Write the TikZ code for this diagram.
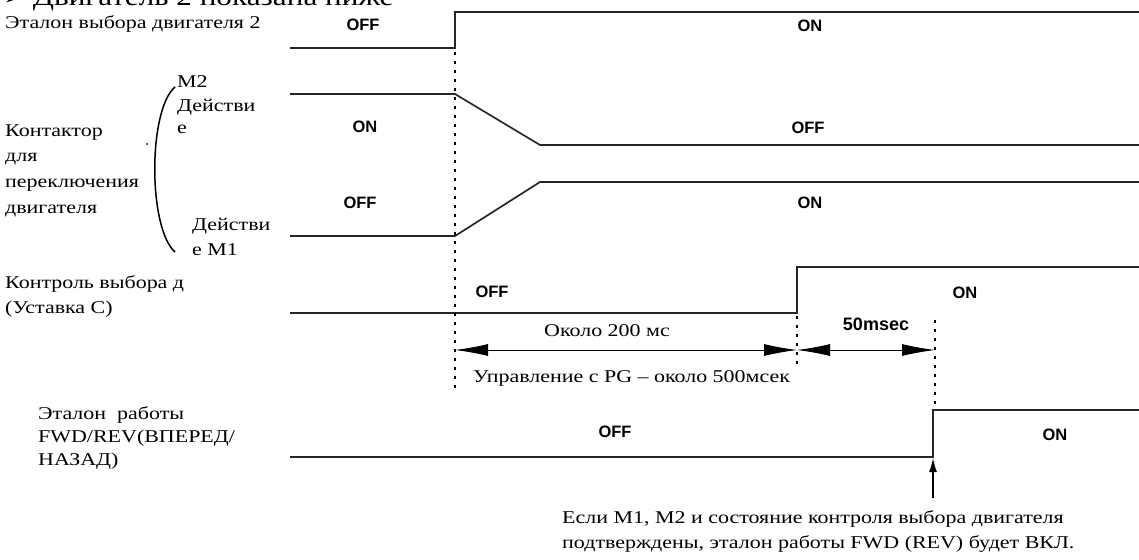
\documentclass[tikz,border=0pt]{standalone}
\usepackage{fontspec}
\setmainfont{Liberation Serif}
\newfontfamily\lblfont[FakeStretch=1.22]{Liberation Serif}
\newfontfamily\titlefont[FakeStretch=1.2]{Liberation Serif}
\newfontfamily\stfont{Liberation Sans}
\newfontfamily\symfont{DejaVu Sans}
\usetikzlibrary{arrows.meta}
\begin{document}
\begin{tikzpicture}[x=1pt,y=-1pt,
  sig/.style={line width=1.7pt, black!85},
  vdot/.style={line width=2pt, dash pattern=on 3pt off 6pt},
  dim/.style={line width=0.9pt, {Latex[length=33pt,width=12pt]}-{Latex[length=33pt,width=12pt]}},
  st/.style={font=\stfont\bfseries\fontsize{16.5}{16.5}\selectfont, inner sep=0pt},
  lab/.style={font=\lblfont\fontsize{18}{18}\selectfont, anchor=west, inner sep=0pt},
  note/.style={font=\lblfont\fontsize{18}{18}\selectfont, inner sep=0pt}
]
\useasboundingbox (0,0) rectangle (1139,559);
\fill[white] (0,0) rectangle (1139,559);

% title (cut off at top)
\node[anchor=base west, font=\titlefont\fontsize{26}{26}\selectfont, inner sep=0pt] (title) at (3,6) {{\symfont ➢} Двигатель 2 показана ниже};

% left labels
\node[lab] (l1) at (5,24) {Эталон выбора двигателя 2};
\node[lab] (m2a) at (177,82) {M2};
\node[lab] (m2b) at (177,107) {Действи};
\node[lab] (m2c) at (177,129) {е};
\node[lab] (k1) at (5,133) {Контактор};
\node[lab] (k2) at (5,159) {для};
\node[lab] (k3) at (5,185) {переключения};
\node[lab] (k4) at (5,211) {двигателя};
\node[lab] (m1a) at (192,226) {Действи};
\node[lab] (m1b) at (192,250) {е M1};
\begin{scope}
\clip (0,265) rectangle (195,300);
\node[lab] (c1) at (5,284) {Контроль выбора д};
\end{scope}
\node[lab] (c2) at (5,309) {(Уставка С)};
\node[lab] (f1) at (38,415) {Эталон\ \ работы};
\node[lab] (f2) at (38,438) {FWD/REV(ВПЕРЕД/};
\node[lab] (f3) at (38,461) {НАЗАД)};

% bracket and dot
\coordinate (bt) at (175,87);
\coordinate (bb) at (175,252);
\draw[line width=1.5pt] (bt) .. controls (148,110) and (148,228) .. (bb);
\fill (147,144) circle (1pt);

% signal 1
\coordinate (s1a) at (290,48); \coordinate (s1b) at (455,48);
\coordinate (s1c) at (455,12); \coordinate (s1d) at (1139,12);
\draw[sig] (s1a) -- (s1b) -- (s1c) -- (s1d);
\node[st] (s1off) at (363,25) {OFF};
\node[st] (s1on) at (810,26) {ON};

% M2
\coordinate (m2p) at (290,94); \coordinate (m2q) at (455,94);
\coordinate (m2r) at (540,145); \coordinate (m2s) at (1139,145);
\draw[sig] (m2p) -- (m2q) -- (m2r) -- (m2s);
\node[st] (m2on) at (365,127) {ON};
\node[st] (m2off) at (808,128) {OFF};

% M1
\coordinate (m1p) at (290,236); \coordinate (m1q) at (455,236);
\coordinate (m1r) at (540,182); \coordinate (m1s) at (1139,182);
\draw[sig] (m1p) -- (m1q) -- (m1r) -- (m1s);
\node[st] (m1off) at (360,203) {OFF};
\node[st] (m1on) at (810,203) {ON};

% control
\coordinate (cp) at (290,313); \coordinate (cq) at (797,313);
\coordinate (cr) at (797,267); \coordinate (cs) at (1139,267);
\draw[sig] (cp) -- (cq) -- (cr) -- (cs);
\node[st] (coff) at (492,292) {OFF};
\node[st] (con) at (965,293) {ON};

% FWD
\coordinate (fp) at (290,457); \coordinate (fq) at (933,457);
\coordinate (fr) at (933,410); \coordinate (fs) at (1139,410);
\draw[sig] (fp) -- (fq) -- (fr) -- (fs);
\node[st] (foff) at (615,432) {OFF};
\node[st] (fon) at (1055,435) {ON};

% dotted verticals
\coordinate (d1a) at (455,52); \coordinate (d1b) at (455,392);
\coordinate (d2a) at (797,316); \coordinate (d2b) at (797,364);
\coordinate (d3a) at (935,320); \coordinate (d3b) at (935,408);
\draw[vdot] (d1a) -- (d1b);
\draw[vdot] (d2a) -- (d2b);
\draw[vdot] (d3a) -- (d3b);

% dimension arrows
\coordinate (a1) at (455,350); \coordinate (a2) at (797,350); \coordinate (a3) at (935,350);
\draw[dim] (a1) -- (a2);
\draw[dim] (a2) -- (a3);
\node[note] (t200) at (607,331) {Около 200 мс};
\node[st, font=\stfont\bfseries\fontsize{18}{18}\selectfont] (t50) at (876,324) {50msec};
\node[note, anchor=west] (tpg) at (473,378) {Управление с PG – около 500мсек};

% up arrow and note
\coordinate (u0) at (933,498); \coordinate (u1) at (933,458);
\draw[line width=1.3pt, -{Latex[length=14pt,width=8pt]}] (u0) -- (u1);
\node[note, anchor=west] (b1) at (562,519) {Если M1, M2 и состояние контроля выбора двигателя};
\node[note, anchor=west] (b2) at (562,544) {подтверждены, эталон работы FWD (REV) будет ВКЛ.};
\end{tikzpicture}
\end{document}
